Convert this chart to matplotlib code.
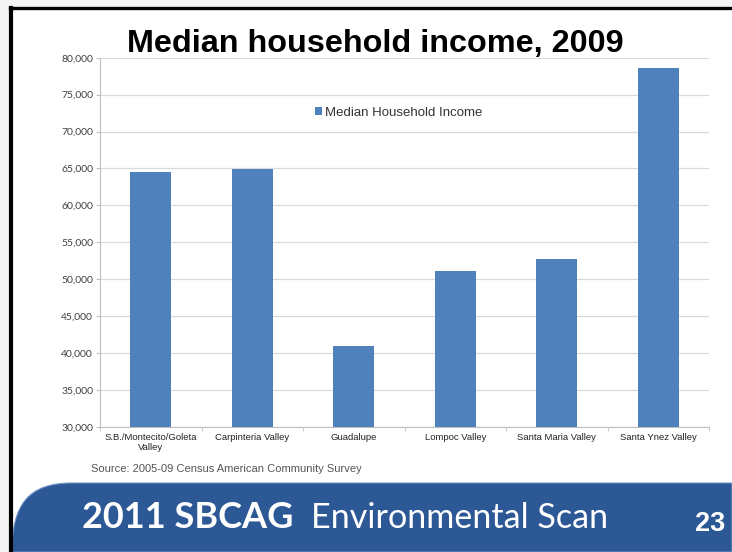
import matplotlib
matplotlib.use("Agg")
import matplotlib.pyplot as plt
from matplotlib.patches import PathPatch, Rectangle
from matplotlib.path import Path
from matplotlib.ticker import FuncFormatter, FixedLocator

# data
regions = ["S.B./Montecito/Goleta\nValley", "Carpinteria Valley", "Guadalupe",
           "Lompoc Valley", "Santa Maria Valley", "Santa Ynez Valley"]
income = [64500, 64900, 41000, 51100, 52700, 78600]
series_name = "Median Household Income"
title = "Median household income, 2009"
source = "Source: 2005-09 Census American Community Survey"

W, H = 732, 552
BAR = "#4F81BD"
BANNER = "#2C5896"

fig = plt.figure(figsize=(W / 100, H / 100), dpi=100)
fig.patch.set_facecolor("white")

# slide background layer in pixel coords
bg = fig.add_axes([0, 0, 1, 1])
bg.set_xlim(0, W); bg.set_ylim(H, 0); bg.axis("off")
bg.add_patch(Rectangle((0, 0), W, H, color="#F4F4F4", zorder=0))
bg.add_patch(Rectangle((11, 9), W - 11, H - 9, color="white", zorder=1))
bg.plot([10.5, 10.5], [8, H], color="black", lw=3, zorder=3)
bg.plot([10, W], [8, 8], color="black", lw=2.4, zorder=3)

verts = [(12, H), (12, 505), (28, 483), (72, 483), (W, 483), (W, H), (12, H)]
codes = [Path.MOVETO, Path.CURVE4, Path.CURVE4, Path.CURVE4, Path.LINETO, Path.LINETO, Path.CLOSEPOLY]
bg.add_patch(PathPatch(Path(verts, codes), facecolor=BANNER, edgecolor="#6E93C6", lw=0.8, zorder=2))

bg.text(82, 528, "2011 SBCAG", family="Lato", weight="bold", fontsize=26,
        color="white", va="baseline", zorder=4)
bg.text(311, 528, "Environmental Scan", family="Lato", fontsize=24.6,
        color="white", va="baseline", zorder=4)
bg.text(710, 531, "23", family="Liberation Sans", weight="bold", fontsize=19.5,
        color="white", ha="center", va="baseline", zorder=4)

bg.text(375, 52, title, family="Liberation Sans", weight="bold", fontsize=23.3,
        ha="center", va="baseline", color="black", zorder=4)
bg.text(91, 469, source, family="Liberation Sans", fontsize=8,
        color="#555555", va="center", zorder=4)

# chart
ax = fig.add_axes([100 / W, 125 / H, 609 / W, 369.3 / H])
ax.patch.set_alpha(0)
x = list(range(len(regions)))
ax.bar(x, income, width=0.4, color=BAR, label=series_name, zorder=3)
ax.set_xlim(-0.5, len(regions) - 0.5)
ax.set_ylim(30000, 80000)
ax.yaxis.set_major_locator(FixedLocator(range(30000, 80001, 5000)))
ax.yaxis.set_major_formatter(FuncFormatter(lambda v, p: f"{int(v):,}"))
ax.grid(axis="y", color="#D9D9D9", lw=0.9, zorder=0)
for s in ["top", "right"]:
    ax.spines[s].set_visible(False)
for s in ["left", "bottom"]:
    ax.spines[s].set_color("#BFBFBF")
    ax.spines[s].set_linewidth(0.8)
ax.set_xticks(x)
ax.set_xticklabels(regions, family="Liberation Sans", fontsize=6.8, color="#222222")
ax.set_xticks([i - 0.5 for i in range(len(regions) + 1)], minor=True)
ax.tick_params(axis="x", which="major", length=0, pad=4)
ax.tick_params(axis="x", which="minor", length=3, color="#BFBFBF")
ax.tick_params(axis="y", length=3, color="#BFBFBF", pad=2, labelsize=7.5, labelcolor="#404040")
for t in ax.get_yticklabels():
    t.set_family("Lato")

ax.legend(loc="center left", bbox_to_anchor=(315 / W, 1 - 113 / H), bbox_transform=fig.transFigure,
          frameon=False, borderpad=0, borderaxespad=0, handlelength=0.55, handleheight=0.55,
          handletextpad=0.2, prop={"family": "Liberation Sans", "size": 9.5}, labelcolor="#333333")

fig.savefig("out.png", dpi=100)
